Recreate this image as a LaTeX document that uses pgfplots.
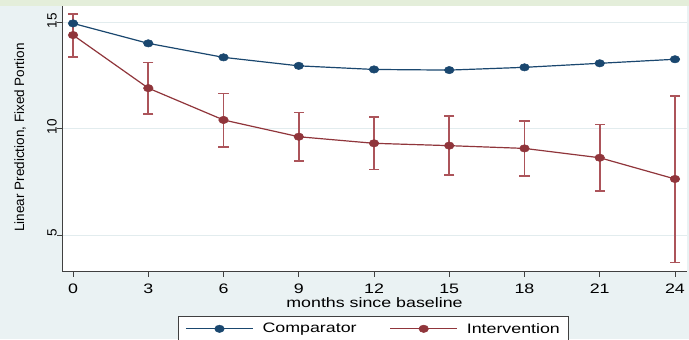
\documentclass[border=0pt]{standalone}
\usepackage{pgfplots}
\pgfplotsset{compat=1.18}
\usepackage{pgfplotstable}
\usepackage{fontspec}
\setmainfont{Liberation Sans}[FakeStretch=1.3]
\newfontfamily\rotfont{Liberation Sans}
\definecolor{sbg}{RGB}{234,242,243}
\definecolor{sgreen}{RGB}{228,238,218}
\definecolor{snavy}{RGB}{26,71,111}
\definecolor{smaroon}{RGB}{144,53,59}
\definecolor{serr}{RGB}{172,84,90}
\definecolor{sgrid}{RGB}{226,236,238}
\newcommand{\tfont}{\fontsize{13.7bp}{16bp}\selectfont}
\newcommand{\rfont}{\rotfont\fontsize{13.5bp}{16bp}\selectfont}

\pgfplotstableread{
x comp int lo hi
0 14.97 14.42 13.38 15.41
3 14.03 11.92 10.71 13.13
6 13.37 10.42 9.16 11.67
9 12.97 9.63 8.50 10.78
12 12.80 9.32 8.09 10.56
15 12.77 9.21 7.83 10.61
18 12.90 9.08 7.78 10.37
21 13.09 8.64 7.06 10.20
24 13.28 7.64 3.70 11.56
}\data

\begin{document}
\begin{tikzpicture}[x=1bp,y=1bp]
\fill[sbg] (0,0) rectangle (689,339);
\fill[sgreen] (0,333) rectangle (689,339);
\useasboundingbox (0,0) rectangle (689,339);
\begin{axis}[
  at={(62bp,67.5bp)}, anchor=south west,
  scale only axis, width=625bp, height=265.5bp,
  xmin=-0.44, xmax=24.48, ymin=3.28, ymax=15.79,
  clip=false,
  axis background/.style={fill=white},
  axis x line*=bottom, axis y line*=left,
  axis line style={-, black!75, line width=0.8bp},
  xtick={0,3,...,24}, ytick={5,10,15},
  tick align=outside, major tick length=5bp,
  tick style={black!75, line width=0.8bp},
  ymajorgrids, grid style={sgrid, line width=0.8bp},
  /pgf/number format/assume math mode=true,
  xticklabel style={font=\tfont, anchor=north, inner sep=0pt, yshift=-7bp},
  yticklabel style={font=\rfont, rotate=90, anchor=south, inner sep=0pt, xshift=2bp},
  xlabel={months since baseline},
  xlabel style={font=\tfont, at={(axis description cs:0.5,-0.134)}, anchor=base, inner sep=0pt},
  ylabel={Linear Prediction, Fixed Portion},
  ylabel style={font=\rfont, at={(axis description cs:-0.0672,0.505)}, anchor=center, inner sep=0pt},
  legend columns=2,
  legend cell align=left,
  legend style={at={(axis description cs:0.1856,-0.1665)}, anchor=north west,
    draw=black!75, line width=0.8bp, fill=white,
    inner xsep=7bp, inner ysep=5bp, font=\tfont,
    /tikz/every odd column/.style={column sep=7bp},
    /tikz/every even column/.style={column sep=31bp}},
  legend image code/.code={\draw[mark repeat=2,mark phase=2,#1] plot coordinates {(0bp,0bp) (33.5bp,0bp) (67bp,0bp)};},
]
% confidence intervals: vertical bars and caps
\addplot[forget plot, only marks, mark=none, serr,
  error bars/.cd, y dir=both, y explicit,
  error bar style={serr, line width=1.8bp}]
  table[x=x, y=int, y error plus expr=\thisrow{hi}-\thisrow{int}, y error minus expr=\thisrow{int}-\thisrow{lo}]{\data};
\addplot[forget plot, only marks, mark=-, mark size=5.2bp, serr,
  mark options={line width=1.6bp, draw=serr}]
  table[x=x, y=lo]{\data};
\addplot[forget plot, only marks, mark=-, mark size=5.2bp, serr,
  mark options={line width=1.6bp, draw=serr}]
  table[x=x, y=hi]{\data};
\addplot[snavy, line width=1.2bp, mark=*, mark size=3.7bp,
  mark options={xscale=1.3, fill=snavy, draw=snavy, line width=0.5bp}]
  table[x=x, y=comp]{\data};
\addlegendentry{Comparator}
\addplot[smaroon, line width=1.2bp, mark=*, mark size=3.7bp,
  mark options={xscale=1.3, fill=smaroon, draw=smaroon, line width=0.5bp}]
  table[x=x, y=int]{\data};
\addlegendentry{Intervention}
\end{axis}
\end{tikzpicture}
\end{document}
